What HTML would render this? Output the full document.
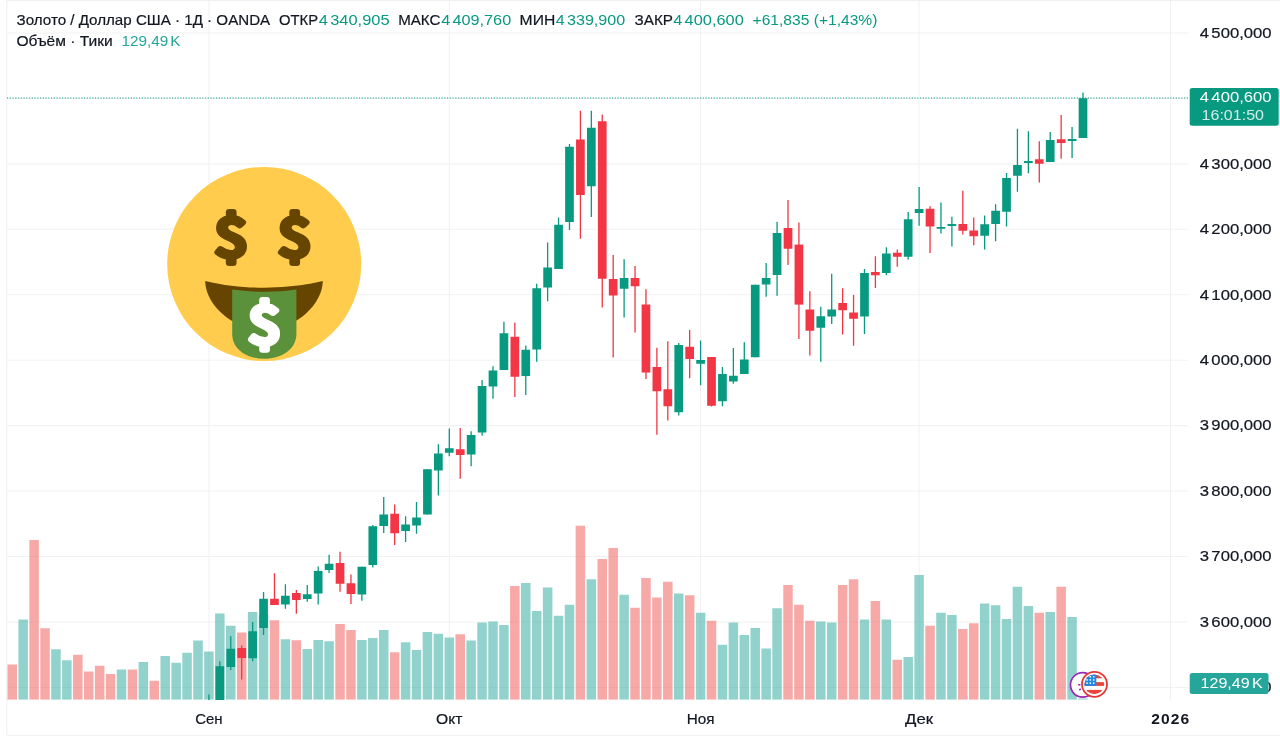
<!DOCTYPE html>
<html lang="ru"><head><meta charset="utf-8"><title>Золото / Доллар США</title>
<style>
html,body{margin:0;padding:0;background:#fff}
body{width:1280px;height:740px;overflow:hidden;position:relative;font-family:"Liberation Sans",sans-serif}
svg{position:absolute;left:0;top:0;display:block}
svg{font-family:"Liberation Sans",sans-serif}
.t{font-size:13.6px;fill:#131722}
.g{fill:#089981}
.ax{font-size:13.6px;fill:#131722}
</style></head><body>
<svg width="1280" height="740" viewBox="0 0 1280 740">
<rect width="1280" height="740" fill="#fff"/>

<g stroke="#eeeff1" stroke-width="1">
<line x1="6.8" y1="0" x2="6.8" y2="735.3"/>
<line x1="6.8" y1="735.3" x2="1280" y2="735.3"/>
<line x1="6.8" y1="0.6" x2="1280" y2="0.6"/>
</g>
<g stroke="#f1f2f4" stroke-width="1.05">
<line x1="7" y1="33.00" x2="1188" y2="33.00"/>
<line x1="7" y1="98.44" x2="1188" y2="98.44"/>
<line x1="7" y1="163.88" x2="1188" y2="163.88"/>
<line x1="7" y1="229.32" x2="1188" y2="229.32"/>
<line x1="7" y1="294.76" x2="1188" y2="294.76"/>
<line x1="7" y1="360.20" x2="1188" y2="360.20"/>
<line x1="7" y1="425.64" x2="1188" y2="425.64"/>
<line x1="7" y1="491.08" x2="1188" y2="491.08"/>
<line x1="7" y1="556.52" x2="1188" y2="556.52"/>
<line x1="7" y1="621.96" x2="1188" y2="621.96"/>
<line x1="7" y1="687.40" x2="1188" y2="687.40"/>
<line x1="208.92" y1="1" x2="208.92" y2="700.5"/>
<line x1="449.29" y1="1" x2="449.29" y2="700.5"/>
<line x1="700.59" y1="1" x2="700.59" y2="700.5"/>
<line x1="919.11" y1="1" x2="919.11" y2="700.5"/>
<line x1="1170.41" y1="1" x2="1170.41" y2="700.5"/>
</g>
<g>
<rect x="7.50" y="664.50" width="9.5" height="35.10" fill="#ef5350" fill-opacity=".5"/>
<rect x="18.43" y="619.50" width="9.5" height="80.10" fill="#26a69a" fill-opacity=".5"/>
<rect x="29.35" y="540.00" width="9.5" height="159.60" fill="#ef5350" fill-opacity=".5"/>
<rect x="40.28" y="628.25" width="9.5" height="71.35" fill="#ef5350" fill-opacity=".5"/>
<rect x="51.20" y="649.25" width="9.5" height="50.35" fill="#26a69a" fill-opacity=".5"/>
<rect x="62.13" y="660.25" width="9.5" height="39.35" fill="#26a69a" fill-opacity=".5"/>
<rect x="73.06" y="654.75" width="9.5" height="44.85" fill="#ef5350" fill-opacity=".5"/>
<rect x="83.98" y="671.50" width="9.5" height="28.10" fill="#ef5350" fill-opacity=".5"/>
<rect x="94.91" y="665.75" width="9.5" height="33.85" fill="#ef5350" fill-opacity=".5"/>
<rect x="105.83" y="674.00" width="9.5" height="25.60" fill="#ef5350" fill-opacity=".5"/>
<rect x="116.76" y="669.50" width="9.5" height="30.10" fill="#26a69a" fill-opacity=".5"/>
<rect x="127.69" y="669.50" width="9.5" height="30.10" fill="#ef5350" fill-opacity=".5"/>
<rect x="138.61" y="662.00" width="9.5" height="37.60" fill="#26a69a" fill-opacity=".5"/>
<rect x="149.54" y="680.75" width="9.5" height="18.85" fill="#ef5350" fill-opacity=".5"/>
<rect x="160.46" y="656.00" width="9.5" height="43.60" fill="#26a69a" fill-opacity=".5"/>
<rect x="171.39" y="662.75" width="9.5" height="36.85" fill="#26a69a" fill-opacity=".5"/>
<rect x="182.32" y="652.75" width="9.5" height="46.85" fill="#26a69a" fill-opacity=".5"/>
<rect x="193.24" y="640.50" width="9.5" height="59.10" fill="#26a69a" fill-opacity=".5"/>
<rect x="204.17" y="651.50" width="9.5" height="48.10" fill="#26a69a" fill-opacity=".5"/>
<rect x="215.09" y="613.50" width="9.5" height="86.10" fill="#26a69a" fill-opacity=".5"/>
<rect x="226.02" y="625.75" width="9.5" height="73.85" fill="#26a69a" fill-opacity=".5"/>
<rect x="236.95" y="632.50" width="9.5" height="67.10" fill="#ef5350" fill-opacity=".5"/>
<rect x="247.87" y="612.00" width="9.5" height="87.60" fill="#26a69a" fill-opacity=".5"/>
<rect x="258.80" y="615.00" width="9.5" height="84.60" fill="#26a69a" fill-opacity=".5"/>
<rect x="269.72" y="620.25" width="9.5" height="79.35" fill="#ef5350" fill-opacity=".5"/>
<rect x="280.65" y="639.25" width="9.5" height="60.35" fill="#26a69a" fill-opacity=".5"/>
<rect x="291.58" y="640.25" width="9.5" height="59.35" fill="#ef5350" fill-opacity=".5"/>
<rect x="302.50" y="649.00" width="9.5" height="50.60" fill="#26a69a" fill-opacity=".5"/>
<rect x="313.43" y="640.00" width="9.5" height="59.60" fill="#26a69a" fill-opacity=".5"/>
<rect x="324.35" y="641.25" width="9.5" height="58.35" fill="#26a69a" fill-opacity=".5"/>
<rect x="335.28" y="624.00" width="9.5" height="75.60" fill="#ef5350" fill-opacity=".5"/>
<rect x="346.21" y="630.00" width="9.5" height="69.60" fill="#ef5350" fill-opacity=".5"/>
<rect x="357.13" y="640.00" width="9.5" height="59.60" fill="#26a69a" fill-opacity=".5"/>
<rect x="368.06" y="638.00" width="9.5" height="61.60" fill="#26a69a" fill-opacity=".5"/>
<rect x="378.98" y="630.00" width="9.5" height="69.60" fill="#26a69a" fill-opacity=".5"/>
<rect x="389.91" y="652.25" width="9.5" height="47.35" fill="#ef5350" fill-opacity=".5"/>
<rect x="400.84" y="642.25" width="9.5" height="57.35" fill="#26a69a" fill-opacity=".5"/>
<rect x="411.76" y="650.00" width="9.5" height="49.60" fill="#26a69a" fill-opacity=".5"/>
<rect x="422.69" y="632.00" width="9.5" height="67.60" fill="#26a69a" fill-opacity=".5"/>
<rect x="433.61" y="633.75" width="9.5" height="65.85" fill="#26a69a" fill-opacity=".5"/>
<rect x="444.54" y="637.50" width="9.5" height="62.10" fill="#26a69a" fill-opacity=".5"/>
<rect x="455.47" y="634.25" width="9.5" height="65.35" fill="#ef5350" fill-opacity=".5"/>
<rect x="466.39" y="640.50" width="9.5" height="59.10" fill="#26a69a" fill-opacity=".5"/>
<rect x="477.32" y="622.50" width="9.5" height="77.10" fill="#26a69a" fill-opacity=".5"/>
<rect x="488.24" y="621.50" width="9.5" height="78.10" fill="#26a69a" fill-opacity=".5"/>
<rect x="499.17" y="625.00" width="9.5" height="74.60" fill="#26a69a" fill-opacity=".5"/>
<rect x="510.10" y="586.00" width="9.5" height="113.60" fill="#ef5350" fill-opacity=".5"/>
<rect x="521.02" y="583.00" width="9.5" height="116.60" fill="#26a69a" fill-opacity=".5"/>
<rect x="531.95" y="611.00" width="9.5" height="88.60" fill="#26a69a" fill-opacity=".5"/>
<rect x="542.87" y="587.50" width="9.5" height="112.10" fill="#26a69a" fill-opacity=".5"/>
<rect x="553.80" y="615.75" width="9.5" height="83.85" fill="#26a69a" fill-opacity=".5"/>
<rect x="564.73" y="604.75" width="9.5" height="94.85" fill="#26a69a" fill-opacity=".5"/>
<rect x="575.65" y="525.70" width="9.5" height="173.90" fill="#ef5350" fill-opacity=".5"/>
<rect x="586.58" y="579.25" width="9.5" height="120.35" fill="#26a69a" fill-opacity=".5"/>
<rect x="597.50" y="559.00" width="9.5" height="140.60" fill="#ef5350" fill-opacity=".5"/>
<rect x="608.43" y="548.00" width="9.5" height="151.60" fill="#ef5350" fill-opacity=".5"/>
<rect x="619.36" y="594.75" width="9.5" height="104.85" fill="#26a69a" fill-opacity=".5"/>
<rect x="630.28" y="607.75" width="9.5" height="91.85" fill="#ef5350" fill-opacity=".5"/>
<rect x="641.21" y="578.00" width="9.5" height="121.60" fill="#ef5350" fill-opacity=".5"/>
<rect x="652.13" y="597.50" width="9.5" height="102.10" fill="#ef5350" fill-opacity=".5"/>
<rect x="663.06" y="581.75" width="9.5" height="117.85" fill="#ef5350" fill-opacity=".5"/>
<rect x="673.99" y="593.50" width="9.5" height="106.10" fill="#26a69a" fill-opacity=".5"/>
<rect x="684.91" y="595.25" width="9.5" height="104.35" fill="#ef5350" fill-opacity=".5"/>
<rect x="695.84" y="612.75" width="9.5" height="86.85" fill="#26a69a" fill-opacity=".5"/>
<rect x="706.76" y="620.75" width="9.5" height="78.85" fill="#ef5350" fill-opacity=".5"/>
<rect x="717.69" y="644.75" width="9.5" height="54.85" fill="#26a69a" fill-opacity=".5"/>
<rect x="728.62" y="622.50" width="9.5" height="77.10" fill="#26a69a" fill-opacity=".5"/>
<rect x="739.54" y="635.00" width="9.5" height="64.60" fill="#26a69a" fill-opacity=".5"/>
<rect x="750.47" y="628.00" width="9.5" height="71.60" fill="#26a69a" fill-opacity=".5"/>
<rect x="761.39" y="648.50" width="9.5" height="51.10" fill="#26a69a" fill-opacity=".5"/>
<rect x="772.32" y="608.25" width="9.5" height="91.35" fill="#26a69a" fill-opacity=".5"/>
<rect x="783.25" y="585.00" width="9.5" height="114.60" fill="#ef5350" fill-opacity=".5"/>
<rect x="794.17" y="604.75" width="9.5" height="94.85" fill="#ef5350" fill-opacity=".5"/>
<rect x="805.10" y="620.75" width="9.5" height="78.85" fill="#ef5350" fill-opacity=".5"/>
<rect x="816.02" y="621.50" width="9.5" height="78.10" fill="#26a69a" fill-opacity=".5"/>
<rect x="826.95" y="622.50" width="9.5" height="77.10" fill="#26a69a" fill-opacity=".5"/>
<rect x="837.88" y="585.00" width="9.5" height="114.60" fill="#ef5350" fill-opacity=".5"/>
<rect x="848.80" y="579.25" width="9.5" height="120.35" fill="#ef5350" fill-opacity=".5"/>
<rect x="859.73" y="619.50" width="9.5" height="80.10" fill="#26a69a" fill-opacity=".5"/>
<rect x="870.65" y="601.00" width="9.5" height="98.60" fill="#ef5350" fill-opacity=".5"/>
<rect x="881.58" y="619.50" width="9.5" height="80.10" fill="#26a69a" fill-opacity=".5"/>
<rect x="892.51" y="659.75" width="9.5" height="39.85" fill="#ef5350" fill-opacity=".5"/>
<rect x="903.43" y="657.00" width="9.5" height="42.60" fill="#26a69a" fill-opacity=".5"/>
<rect x="914.36" y="575.00" width="9.5" height="124.60" fill="#26a69a" fill-opacity=".5"/>
<rect x="925.28" y="625.75" width="9.5" height="73.85" fill="#ef5350" fill-opacity=".5"/>
<rect x="936.21" y="612.75" width="9.5" height="86.85" fill="#26a69a" fill-opacity=".5"/>
<rect x="947.14" y="615.00" width="9.5" height="84.60" fill="#26a69a" fill-opacity=".5"/>
<rect x="958.06" y="629.00" width="9.5" height="70.60" fill="#ef5350" fill-opacity=".5"/>
<rect x="968.99" y="623.25" width="9.5" height="76.35" fill="#ef5350" fill-opacity=".5"/>
<rect x="979.91" y="603.50" width="9.5" height="96.10" fill="#26a69a" fill-opacity=".5"/>
<rect x="990.84" y="605.25" width="9.5" height="94.35" fill="#26a69a" fill-opacity=".5"/>
<rect x="1001.77" y="619.00" width="9.5" height="80.60" fill="#26a69a" fill-opacity=".5"/>
<rect x="1012.69" y="586.75" width="9.5" height="112.85" fill="#26a69a" fill-opacity=".5"/>
<rect x="1023.62" y="606.00" width="9.5" height="93.60" fill="#26a69a" fill-opacity=".5"/>
<rect x="1034.54" y="612.75" width="9.5" height="86.85" fill="#ef5350" fill-opacity=".5"/>
<rect x="1045.47" y="612.00" width="9.5" height="87.60" fill="#26a69a" fill-opacity=".5"/>
<rect x="1056.40" y="586.75" width="9.5" height="112.85" fill="#ef5350" fill-opacity=".5"/>
<rect x="1067.32" y="617.00" width="9.5" height="82.60" fill="#26a69a" fill-opacity=".5"/>
<rect x="1078.25" y="698.50" width="9.5" height="1.10" fill="#26a69a" fill-opacity=".5"/>
</g>
<g>
<rect x="208.27" y="694.50" width="1.3" height="5.50" fill="#089981"/>
<rect x="219.19" y="661.25" width="1.3" height="38.75" fill="#089981"/>
<rect x="215.49" y="666.20" width="8.7" height="33.80" fill="#089981"/>
<rect x="230.12" y="636.25" width="1.3" height="33.75" fill="#089981"/>
<rect x="226.42" y="648.75" width="8.7" height="18.25" fill="#089981"/>
<rect x="241.05" y="645.50" width="1.3" height="34.00" fill="#F23645"/>
<rect x="237.35" y="648.00" width="8.7" height="10.00" fill="#F23645"/>
<rect x="251.97" y="622.00" width="1.3" height="39.25" fill="#089981"/>
<rect x="248.27" y="631.25" width="8.7" height="27.00" fill="#089981"/>
<rect x="262.90" y="592.00" width="1.3" height="43.00" fill="#089981"/>
<rect x="259.20" y="598.75" width="8.7" height="29.25" fill="#089981"/>
<rect x="273.82" y="573.25" width="1.3" height="31.75" fill="#F23645"/>
<rect x="270.12" y="598.75" width="8.7" height="6.25" fill="#F23645"/>
<rect x="284.75" y="584.25" width="1.3" height="24.50" fill="#089981"/>
<rect x="281.05" y="595.75" width="8.7" height="8.75" fill="#089981"/>
<rect x="295.68" y="590.00" width="1.3" height="23.75" fill="#F23645"/>
<rect x="291.98" y="593.00" width="8.7" height="7.00" fill="#F23645"/>
<rect x="306.60" y="585.00" width="1.3" height="16.75" fill="#089981"/>
<rect x="302.90" y="594.25" width="8.7" height="4.75" fill="#089981"/>
<rect x="317.53" y="566.50" width="1.3" height="38.00" fill="#089981"/>
<rect x="313.83" y="571.00" width="8.7" height="22.50" fill="#089981"/>
<rect x="328.45" y="554.75" width="1.3" height="18.25" fill="#089981"/>
<rect x="324.75" y="563.75" width="8.7" height="6.25" fill="#089981"/>
<rect x="339.38" y="551.75" width="1.3" height="40.00" fill="#F23645"/>
<rect x="335.68" y="563.00" width="8.7" height="20.75" fill="#F23645"/>
<rect x="350.31" y="574.50" width="1.3" height="29.50" fill="#F23645"/>
<rect x="346.61" y="583.25" width="8.7" height="10.75" fill="#F23645"/>
<rect x="361.23" y="566.75" width="1.3" height="34.00" fill="#089981"/>
<rect x="357.53" y="566.75" width="8.7" height="27.75" fill="#089981"/>
<rect x="372.16" y="525.00" width="1.3" height="42.50" fill="#089981"/>
<rect x="368.46" y="526.25" width="8.7" height="38.75" fill="#089981"/>
<rect x="383.08" y="497.00" width="1.3" height="36.00" fill="#089981"/>
<rect x="379.38" y="514.50" width="8.7" height="11.50" fill="#089981"/>
<rect x="394.01" y="504.50" width="1.3" height="40.50" fill="#F23645"/>
<rect x="390.31" y="513.75" width="8.7" height="19.50" fill="#F23645"/>
<rect x="404.94" y="516.25" width="1.3" height="25.75" fill="#089981"/>
<rect x="401.24" y="524.50" width="8.7" height="6.50" fill="#089981"/>
<rect x="415.86" y="502.00" width="1.3" height="31.75" fill="#089981"/>
<rect x="412.16" y="517.50" width="8.7" height="8.00" fill="#089981"/>
<rect x="426.79" y="469.25" width="1.3" height="45.25" fill="#089981"/>
<rect x="423.09" y="469.25" width="8.7" height="45.25" fill="#089981"/>
<rect x="437.71" y="444.25" width="1.3" height="51.25" fill="#089981"/>
<rect x="434.01" y="453.50" width="8.7" height="17.00" fill="#089981"/>
<rect x="448.64" y="428.50" width="1.3" height="27.75" fill="#089981"/>
<rect x="444.94" y="448.25" width="8.7" height="4.50" fill="#089981"/>
<rect x="459.57" y="428.00" width="1.3" height="50.75" fill="#F23645"/>
<rect x="455.87" y="449.25" width="8.7" height="5.75" fill="#F23645"/>
<rect x="470.49" y="431.25" width="1.3" height="35.00" fill="#089981"/>
<rect x="466.79" y="435.00" width="8.7" height="19.50" fill="#089981"/>
<rect x="481.42" y="380.00" width="1.3" height="55.75" fill="#089981"/>
<rect x="477.72" y="386.00" width="8.7" height="46.50" fill="#089981"/>
<rect x="492.34" y="366.25" width="1.3" height="32.50" fill="#089981"/>
<rect x="488.64" y="370.50" width="8.7" height="16.00" fill="#089981"/>
<rect x="503.27" y="321.75" width="1.3" height="48.25" fill="#089981"/>
<rect x="499.57" y="333.25" width="8.7" height="36.75" fill="#089981"/>
<rect x="514.20" y="322.50" width="1.3" height="74.50" fill="#F23645"/>
<rect x="510.50" y="336.75" width="8.7" height="40.00" fill="#F23645"/>
<rect x="525.12" y="345.50" width="1.3" height="49.50" fill="#089981"/>
<rect x="521.42" y="349.75" width="8.7" height="26.25" fill="#089981"/>
<rect x="536.05" y="283.75" width="1.3" height="78.00" fill="#089981"/>
<rect x="532.35" y="288.25" width="8.7" height="61.25" fill="#089981"/>
<rect x="546.97" y="242.50" width="1.3" height="58.75" fill="#089981"/>
<rect x="543.27" y="267.50" width="8.7" height="20.00" fill="#089981"/>
<rect x="557.90" y="217.50" width="1.3" height="51.50" fill="#089981"/>
<rect x="554.20" y="224.75" width="8.7" height="44.25" fill="#089981"/>
<rect x="568.83" y="144.00" width="1.3" height="86.00" fill="#089981"/>
<rect x="565.13" y="146.75" width="8.7" height="75.25" fill="#089981"/>
<rect x="579.75" y="110.75" width="1.3" height="128.00" fill="#F23645"/>
<rect x="576.05" y="139.50" width="8.7" height="55.50" fill="#F23645"/>
<rect x="590.68" y="110.75" width="1.3" height="106.25" fill="#089981"/>
<rect x="586.98" y="127.75" width="8.7" height="58.50" fill="#089981"/>
<rect x="601.60" y="114.50" width="1.3" height="193.00" fill="#F23645"/>
<rect x="597.90" y="121.25" width="8.7" height="157.50" fill="#F23645"/>
<rect x="612.53" y="255.00" width="1.3" height="102.50" fill="#F23645"/>
<rect x="608.83" y="279.00" width="8.7" height="16.50" fill="#F23645"/>
<rect x="623.46" y="259.25" width="1.3" height="58.25" fill="#089981"/>
<rect x="619.76" y="278.00" width="8.7" height="10.75" fill="#089981"/>
<rect x="634.38" y="266.00" width="1.3" height="66.50" fill="#F23645"/>
<rect x="630.68" y="278.00" width="8.7" height="8.25" fill="#F23645"/>
<rect x="645.31" y="289.25" width="1.3" height="89.75" fill="#F23645"/>
<rect x="641.61" y="304.50" width="8.7" height="68.00" fill="#F23645"/>
<rect x="656.23" y="347.75" width="1.3" height="87.00" fill="#F23645"/>
<rect x="652.53" y="367.00" width="8.7" height="24.25" fill="#F23645"/>
<rect x="667.16" y="341.25" width="1.3" height="79.25" fill="#F23645"/>
<rect x="663.46" y="389.25" width="8.7" height="17.00" fill="#F23645"/>
<rect x="678.09" y="343.00" width="1.3" height="72.50" fill="#089981"/>
<rect x="674.39" y="345.00" width="8.7" height="67.25" fill="#089981"/>
<rect x="689.01" y="330.00" width="1.3" height="48.25" fill="#F23645"/>
<rect x="685.31" y="346.75" width="8.7" height="12.25" fill="#F23645"/>
<rect x="699.94" y="340.50" width="1.3" height="44.75" fill="#089981"/>
<rect x="696.24" y="360.00" width="8.7" height="3.75" fill="#089981"/>
<rect x="710.86" y="357.00" width="1.3" height="49.50" fill="#F23645"/>
<rect x="707.16" y="357.00" width="8.7" height="48.75" fill="#F23645"/>
<rect x="721.79" y="367.00" width="1.3" height="39.25" fill="#089981"/>
<rect x="718.09" y="374.00" width="8.7" height="27.25" fill="#089981"/>
<rect x="732.72" y="348.00" width="1.3" height="35.75" fill="#089981"/>
<rect x="729.02" y="375.75" width="8.7" height="5.75" fill="#089981"/>
<rect x="743.64" y="342.25" width="1.3" height="31.75" fill="#089981"/>
<rect x="739.94" y="359.50" width="8.7" height="14.50" fill="#089981"/>
<rect x="754.57" y="284.75" width="1.3" height="72.50" fill="#089981"/>
<rect x="750.87" y="284.75" width="8.7" height="72.50" fill="#089981"/>
<rect x="765.49" y="263.00" width="1.3" height="33.75" fill="#089981"/>
<rect x="761.79" y="278.00" width="8.7" height="6.50" fill="#089981"/>
<rect x="776.42" y="221.75" width="1.3" height="74.00" fill="#089981"/>
<rect x="772.72" y="233.00" width="8.7" height="42.00" fill="#089981"/>
<rect x="787.35" y="200.00" width="1.3" height="65.00" fill="#F23645"/>
<rect x="783.65" y="228.00" width="8.7" height="20.75" fill="#F23645"/>
<rect x="798.27" y="222.50" width="1.3" height="116.50" fill="#F23645"/>
<rect x="794.57" y="244.60" width="8.7" height="60.00" fill="#F23645"/>
<rect x="809.20" y="291.25" width="1.3" height="64.25" fill="#F23645"/>
<rect x="805.50" y="309.50" width="8.7" height="21.25" fill="#F23645"/>
<rect x="820.12" y="306.75" width="1.3" height="55.05" fill="#089981"/>
<rect x="816.42" y="316.25" width="8.7" height="11.50" fill="#089981"/>
<rect x="831.05" y="273.75" width="1.3" height="50.25" fill="#089981"/>
<rect x="827.35" y="309.50" width="8.7" height="7.00" fill="#089981"/>
<rect x="841.98" y="288.25" width="1.3" height="46.25" fill="#F23645"/>
<rect x="838.28" y="303.00" width="8.7" height="7.25" fill="#F23645"/>
<rect x="852.90" y="295.00" width="1.3" height="50.75" fill="#F23645"/>
<rect x="849.20" y="312.50" width="8.7" height="6.25" fill="#F23645"/>
<rect x="863.83" y="269.00" width="1.3" height="65.00" fill="#089981"/>
<rect x="860.13" y="273.00" width="8.7" height="43.50" fill="#089981"/>
<rect x="874.75" y="256.25" width="1.3" height="31.75" fill="#F23645"/>
<rect x="871.05" y="272.00" width="8.7" height="3.25" fill="#F23645"/>
<rect x="885.68" y="247.25" width="1.3" height="28.00" fill="#089981"/>
<rect x="881.98" y="253.50" width="8.7" height="19.50" fill="#089981"/>
<rect x="896.61" y="249.50" width="1.3" height="17.25" fill="#F23645"/>
<rect x="892.91" y="252.75" width="8.7" height="4.00" fill="#F23645"/>
<rect x="907.53" y="212.00" width="1.3" height="47.50" fill="#089981"/>
<rect x="903.83" y="219.25" width="8.7" height="37.50" fill="#089981"/>
<rect x="918.46" y="187.00" width="1.3" height="38.75" fill="#089981"/>
<rect x="914.76" y="209.00" width="8.7" height="4.00" fill="#089981"/>
<rect x="929.38" y="206.25" width="1.3" height="46.75" fill="#F23645"/>
<rect x="925.68" y="208.75" width="8.7" height="17.75" fill="#F23645"/>
<rect x="940.31" y="202.50" width="1.3" height="31.00" fill="#089981"/>
<rect x="936.61" y="227.00" width="8.7" height="1.75" fill="#089981"/>
<rect x="951.24" y="216.75" width="1.3" height="29.75" fill="#089981"/>
<rect x="947.54" y="224.00" width="8.7" height="2.00" fill="#089981"/>
<rect x="962.16" y="190.75" width="1.3" height="43.75" fill="#F23645"/>
<rect x="958.46" y="224.00" width="8.7" height="6.75" fill="#F23645"/>
<rect x="973.09" y="217.50" width="1.3" height="27.75" fill="#F23645"/>
<rect x="969.39" y="230.50" width="8.7" height="5.75" fill="#F23645"/>
<rect x="984.01" y="215.50" width="1.3" height="34.00" fill="#089981"/>
<rect x="980.31" y="224.25" width="8.7" height="11.50" fill="#089981"/>
<rect x="994.94" y="204.25" width="1.3" height="37.00" fill="#089981"/>
<rect x="991.24" y="210.75" width="8.7" height="13.25" fill="#089981"/>
<rect x="1005.87" y="173.00" width="1.3" height="53.50" fill="#089981"/>
<rect x="1002.17" y="178.00" width="8.7" height="33.75" fill="#089981"/>
<rect x="1016.79" y="128.75" width="1.3" height="63.00" fill="#089981"/>
<rect x="1013.09" y="165.00" width="8.7" height="10.75" fill="#089981"/>
<rect x="1027.72" y="131.25" width="1.3" height="42.00" fill="#089981"/>
<rect x="1024.02" y="161.00" width="8.7" height="2.00" fill="#089981"/>
<rect x="1038.64" y="141.25" width="1.3" height="41.25" fill="#F23645"/>
<rect x="1034.94" y="159.25" width="8.7" height="4.50" fill="#F23645"/>
<rect x="1049.57" y="132.00" width="1.3" height="30.00" fill="#089981"/>
<rect x="1045.87" y="140.00" width="8.7" height="22.00" fill="#089981"/>
<rect x="1060.50" y="115.00" width="1.3" height="43.75" fill="#F23645"/>
<rect x="1056.80" y="139.25" width="8.7" height="3.75" fill="#F23645"/>
<rect x="1071.42" y="127.00" width="1.3" height="31.00" fill="#089981"/>
<rect x="1067.72" y="139.00" width="8.7" height="2.00" fill="#089981"/>
<rect x="1082.35" y="92.50" width="1.3" height="45.50" fill="#089981"/>
<rect x="1078.65" y="98.25" width="8.7" height="39.75" fill="#089981"/>
</g>
<line x1="7" y1="98" x2="1189" y2="98" stroke="#089981" stroke-width="1.1" stroke-dasharray="1.15 1.6"/>
<g id="emoji">
<circle cx="264.2" cy="264" r="97" fill="#FFCC4D"/>
<path d="M205.2 280.9 C205.2 302.5 230 329.5 264.2 329.5 C298.4 329.5 322.8 302.5 322.8 281.1 C322.8 281.1 268 296 205.2 280.9 Z" fill="#664500"/>
<path d="M232.2 289.6 C253 292.6 276 292.6 296.4 289.6 L296.4 334 C296.4 349 282 358.8 264.3 358.8 C246.6 358.8 232.2 349 232.2 334 Z" fill="#5C913B"/>
<g font-family="'Noto Sans CJK SC','Noto Sans CJK JP','Liberation Sans',sans-serif" font-weight="400" font-size="53.3" stroke-width="6" stroke-linejoin="round" stroke-linecap="round">
<text transform="translate(214.3 256.2) scale(1.128 1)" fill="#664500" stroke="#664500">$</text>
<text transform="translate(277.7 256.2) scale(1.128 1)" fill="#664500" stroke="#664500">$</text>
<text transform="translate(247.9 343.0) scale(1.134 1)" font-size="51.9" fill="#fff" stroke="#fff">$</text>
</g>
</g>

<g id="icons">
<circle cx="1082.7" cy="684.9" r="12.2" fill="#fff" stroke="#9C27B0" stroke-width="1.7"/>
<g fill="#9C27B0"><rect x="1078.2" y="684" width="2.2" height="1.6"/><rect x="1079" y="688.6" width="2" height="1.6" transform="rotate(-35 1080 689.4)"/></g>
<circle cx="1094.5" cy="684.3" r="12.5" fill="#fff" stroke="#E53935" stroke-width="1.8"/>
<clipPath id="fc"><circle cx="1094.3" cy="684.3" r="9.9"/></clipPath>
<g clip-path="url(#fc)">
<rect x="1084" y="674" width="21" height="21" fill="#fff"/>
<rect x="1084" y="674.2" width="21" height="4.1" fill="#E8453C"/>
<rect x="1084" y="682.1" width="21" height="3.8" fill="#E8453C"/>
<rect x="1084" y="689.9" width="21" height="5" fill="#E8453C"/>
<rect x="1084" y="674" width="12.3" height="11.9" fill="#1E88E5"/>
<g fill="#fff">
<rect x="1086.3" y="679.2" width="1.5" height="1.5"/><rect x="1086.3" y="682.4" width="1.5" height="1.5"/>
<rect x="1089.6" y="676" width="1.5" height="1.5"/><rect x="1089.6" y="679.2" width="1.5" height="1.5"/><rect x="1089.6" y="682.4" width="1.5" height="1.5"/>
<rect x="1092.9" y="676" width="1.5" height="1.5"/><rect x="1092.9" y="679.2" width="1.5" height="1.5"/><rect x="1092.9" y="682.4" width="1.5" height="1.5"/>
</g>
</g>
</g>

<g id="labels">
<text x="1199.80" y="692.20" font-size="14.4" fill="#131722" textLength="71.80" lengthAdjust="spacingAndGlyphs" stroke="#131722" stroke-width="0.2" word-spacing="-2">3 500,000</text>
<text x="16.60" y="24.70" font-size="14.4" fill="#131722" textLength="253.60" lengthAdjust="spacingAndGlyphs" stroke="#131722" stroke-width="0.2">Золото / Доллар США · 1Д · OANDA</text>
<text x="279.00" y="24.70" font-size="14.4" fill="#131722" textLength="39.00" lengthAdjust="spacingAndGlyphs" stroke="#131722" stroke-width="0.2">ОТКР</text>
<text x="318.80" y="24.70" font-size="14.4" fill="#089981" textLength="70.80" lengthAdjust="spacingAndGlyphs" word-spacing="-2">4 340,905</text>
<text x="398.20" y="24.70" font-size="14.4" fill="#131722" textLength="42.20" lengthAdjust="spacingAndGlyphs" stroke="#131722" stroke-width="0.2">МАКС</text>
<text x="441.20" y="24.70" font-size="14.4" fill="#089981" textLength="70.00" lengthAdjust="spacingAndGlyphs" word-spacing="-2">4 409,760</text>
<text x="519.60" y="24.70" font-size="14.4" fill="#131722" textLength="35.60" lengthAdjust="spacingAndGlyphs" stroke="#131722" stroke-width="0.2">МИН</text>
<text x="555.80" y="24.70" font-size="14.4" fill="#089981" textLength="69.40" lengthAdjust="spacingAndGlyphs" word-spacing="-2">4 339,900</text>
<text x="634.60" y="24.70" font-size="14.4" fill="#131722" textLength="38.40" lengthAdjust="spacingAndGlyphs" stroke="#131722" stroke-width="0.2">ЗАКР</text>
<text x="673.20" y="24.70" font-size="14.4" fill="#089981" textLength="70.60" lengthAdjust="spacingAndGlyphs" word-spacing="-2">4 400,600</text>
<text x="752.60" y="24.70" font-size="14.4" fill="#089981" textLength="124.80" lengthAdjust="spacingAndGlyphs">+61,835 (+1,43%)</text>
<text x="16.40" y="45.60" font-size="14.4" fill="#131722" textLength="96.40" lengthAdjust="spacingAndGlyphs" stroke="#131722" stroke-width="0.2">Объём · Тики</text>
<text x="121.40" y="45.60" font-size="14.4" fill="#26a69a" textLength="59.20" lengthAdjust="spacingAndGlyphs" word-spacing="-2">129,49 K</text>
<text x="1199.80" y="37.80" font-size="14.4" fill="#131722" textLength="71.80" lengthAdjust="spacingAndGlyphs" stroke="#131722" stroke-width="0.2" word-spacing="-2">4 500,000</text>
<text x="1199.80" y="168.68" font-size="14.4" fill="#131722" textLength="71.80" lengthAdjust="spacingAndGlyphs" stroke="#131722" stroke-width="0.2" word-spacing="-2">4 300,000</text>
<text x="1199.80" y="234.12" font-size="14.4" fill="#131722" textLength="71.80" lengthAdjust="spacingAndGlyphs" stroke="#131722" stroke-width="0.2" word-spacing="-2">4 200,000</text>
<text x="1199.80" y="299.56" font-size="14.4" fill="#131722" textLength="71.80" lengthAdjust="spacingAndGlyphs" stroke="#131722" stroke-width="0.2" word-spacing="-2">4 100,000</text>
<text x="1199.80" y="365.00" font-size="14.4" fill="#131722" textLength="71.80" lengthAdjust="spacingAndGlyphs" stroke="#131722" stroke-width="0.2" word-spacing="-2">4 000,000</text>
<text x="1199.80" y="430.44" font-size="14.4" fill="#131722" textLength="71.80" lengthAdjust="spacingAndGlyphs" stroke="#131722" stroke-width="0.2" word-spacing="-2">3 900,000</text>
<text x="1199.80" y="495.88" font-size="14.4" fill="#131722" textLength="71.80" lengthAdjust="spacingAndGlyphs" stroke="#131722" stroke-width="0.2" word-spacing="-2">3 800,000</text>
<text x="1199.80" y="561.32" font-size="14.4" fill="#131722" textLength="71.80" lengthAdjust="spacingAndGlyphs" stroke="#131722" stroke-width="0.2" word-spacing="-2">3 700,000</text>
<text x="1199.80" y="626.76" font-size="14.4" fill="#131722" textLength="71.80" lengthAdjust="spacingAndGlyphs" stroke="#131722" stroke-width="0.2" word-spacing="-2">3 600,000</text>
<rect x="1189.7" y="88.1" width="89" height="37.6" rx="2.5" fill="#089981"/>
<text x="1199.80" y="102.40" font-size="14.4" fill="#fff" textLength="71.80" lengthAdjust="spacingAndGlyphs" word-spacing="-2">4 400,600</text>
<text x="1201.60" y="119.60" font-size="14.4" fill="#fff" textLength="62.40" lengthAdjust="spacingAndGlyphs" fill-opacity="0.82">16:01:50</text>
<rect x="1189.7" y="673.1" width="78.8" height="20.9" rx="2.5" fill="#26a69a"/>
<text x="1200.60" y="687.90" font-size="14.4" fill="#fff" textLength="62.00" lengthAdjust="spacingAndGlyphs" word-spacing="-2">129,49 K</text>
<text x="195.20" y="723.80" font-size="14.4" fill="#131722" textLength="27.40" lengthAdjust="spacingAndGlyphs" stroke="#131722" stroke-width="0.2">Сен</text>
<text x="436.10" y="723.80" font-size="14.4" fill="#131722" textLength="26.40" lengthAdjust="spacingAndGlyphs" stroke="#131722" stroke-width="0.2">Окт</text>
<text x="686.70" y="723.80" font-size="14.4" fill="#131722" textLength="27.80" lengthAdjust="spacingAndGlyphs" stroke="#131722" stroke-width="0.2">Ноя</text>
<text x="905.10" y="723.80" font-size="14.4" fill="#131722" textLength="28.00" lengthAdjust="spacingAndGlyphs" stroke="#131722" stroke-width="0.2">Дек</text>
<text x="1151.20" y="723.80" font-size="14.4" fill="#131722" font-weight="bold" textLength="39.00" lengthAdjust="spacingAndGlyphs" letter-spacing="1">2026</text>
</g>
</svg>
</body></html>
